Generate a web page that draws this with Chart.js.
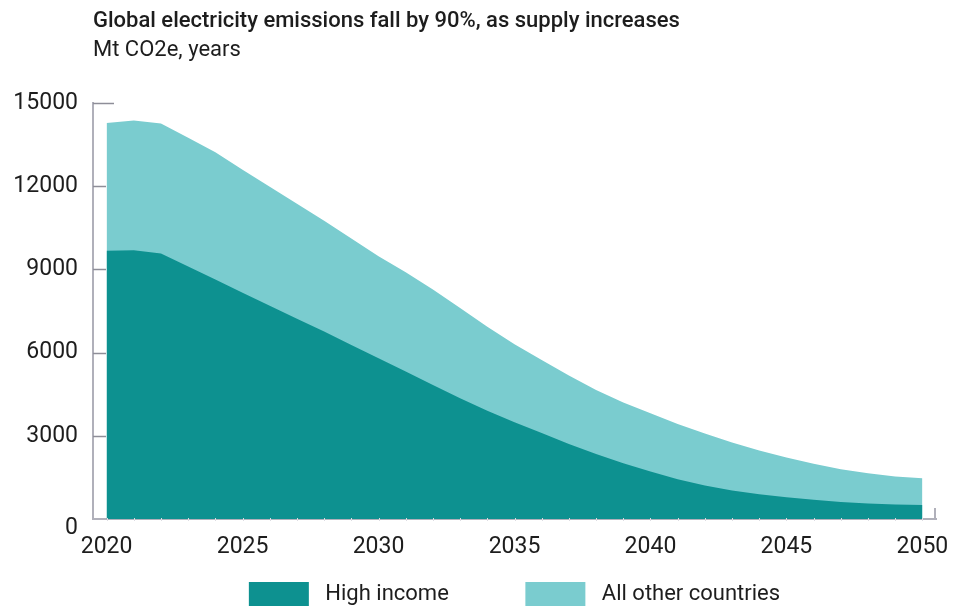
<!DOCTYPE html>
<html>
<head>
<meta charset="utf-8">
<script src="https://cdn.jsdelivr.net/npm/chart.js@4/dist/chart.umd.min.js"></script>
<style>
  html, body { margin: 0; padding: 0; background: #fff; }
  #wrap { width: 953px; height: 606px; }
</style>
</head>
<body>
<div id="wrap"><canvas id="emissions"></canvas></div>
<script>
// Mt CO2e per year
const years = [2020, 2021, 2022, 2023, 2024, 2025, 2026, 2027, 2028, 2029, 2030,
  2031, 2032, 2033, 2034, 2035, 2036, 2037, 2038, 2039, 2040,
  2041, 2042, 2043, 2044, 2045, 2046, 2047, 2048, 2049, 2050];
const highIncome = [9665, 9690, 9570, 9100, 8635, 8150, 7685, 7220, 6755, 6270, 5790,
  5315, 4830, 4355, 3905, 3485, 3095, 2700, 2340, 2010, 1710,
  1430, 1210, 1030, 890, 780, 690, 610, 560, 525, 505];
const otherCountries = [4605, 4670, 4680, 4640, 4585, 4435, 4285, 4140, 3990, 3835, 3680,
  3575, 3440, 3250, 3025, 2815, 2635, 2470, 2310, 2190, 2105,
  1995, 1875, 1730, 1580, 1435, 1300, 1185, 1090, 1005, 965];
const seriesNames = ["High income", "All other countries"];
const xTicks = [2020, 2025, 2030, 2035, 2040, 2045, 2050];
const yTicks = [0, 3000, 6000, 9000, 12000, 15000];

const darkTeal = "#0d9190";
const lightTeal = "#7acccf";
const axisGrey = "#b0b0ba";
const tickGrey = "#8e8e98";
const textColor = "#1d1d1d";
const fontFamily = "Roboto, 'Open Sans', sans-serif";

const toPoints = (vals) => years.map((yr, i) => ({ x: yr, y: vals[i] }));

// inner tick marks on the y axis, end cap on the x axis, faint yearly marks,
// and the zero label sitting a little below the baseline
const axisMarks = {
  id: "axisMarks",
  afterDraw(chart) {
    const { ctx, chartArea, scales } = chart;
    const xs = scales.x, ys = scales.y;
    ctx.save();
    ctx.strokeStyle = tickGrey;
    ctx.lineWidth = 1.5;
    ys.ticks.forEach((t, i) => {
      if (t.value === 0) return;
      const py = Math.round(ys.getPixelForValue(t.value)) + 0.5;
      const len = i === ys.ticks.length - 1 ? 21 : 13;
      ctx.beginPath();
      ctx.moveTo(chartArea.left, py);
      ctx.lineTo(chartArea.left + len, py);
      ctx.stroke();
    });
    ctx.strokeStyle = axisGrey;
    ctx.lineWidth = 2;
    ctx.beginPath();
    ctx.moveTo(chartArea.right - 1, chartArea.bottom);
    ctx.lineTo(chartArea.right - 1, chartArea.bottom - 11);
    ctx.stroke();
    ctx.strokeStyle = "#dcdce2";
    ctx.lineWidth = 1;
    years.forEach((yr) => {
      const px = Math.round(xs.getPixelForValue(yr)) + 0.5;
      ctx.beginPath();
      ctx.moveTo(px, chartArea.bottom - 1);
      ctx.lineTo(px, chartArea.bottom + 2);
      ctx.stroke();
    });
    ctx.fillStyle = textColor;
    ctx.font = "23px " + fontFamily;
    ctx.textAlign = "right";
    ctx.textBaseline = "middle";
    ctx.fillText(String(yTicks[0]), ys.right - 15, ys.getPixelForValue(yTicks[0]) + 9);
    ctx.restore();
  },
};

const chart = new Chart(document.getElementById("emissions"), {
  type: "line",
  data: {
    datasets: [
      {
        label: seriesNames[0],
        data: toPoints(highIncome),
        backgroundColor: darkTeal,
        borderWidth: 0,
        fill: "origin",
      },
      {
        label: seriesNames[1],
        data: toPoints(otherCountries),
        backgroundColor: lightTeal,
        borderWidth: 0,
        fill: "origin",
      },
    ],
  },
  options: {
    responsive: true,
    maintainAspectRatio: false,
    animation: false,
    layout: { padding: { left: 0, right: 17, top: 0, bottom: -10 } },
    elements: {
      point: { radius: 0 },
      line: { tension: 0 },
    },
    plugins: {
      title: {
        display: true,
        text: "Global electricity emissions fall by 90%, as supply increases",
        align: "start",
        fullSize: false,
        color: textColor,
        font: { family: fontFamily, size: 22, weight: 500 },
        padding: { top: 8, bottom: 0 },
      },
      subtitle: {
        display: true,
        text: "Mt CO2e, years",
        align: "start",
        fullSize: false,
        color: textColor,
        font: { family: fontFamily, size: 22, weight: "normal" },
        padding: { top: 3, bottom: 39 },
      },
      legend: {
        position: "bottom",
        fullSize: false,
        labels: {
          color: textColor,
          font: { family: fontFamily, size: 22 },
          boxWidth: 60,
          boxHeight: 24,
          padding: 22,
          generateLabels(c) {
            const items = Chart.defaults.plugins.legend.labels.generateLabels(c);
            items.forEach((it) => {
              it.text = " " + it.text;
              it.lineWidth = 0;
            });
            // wider gap after the first entry
            items[0].text += "          ";
            return items;
          },
        },
      },
      tooltip: { enabled: false },
    },
    scales: {
      x: {
        type: "linear",
        min: 2019.5,
        max: 2050.5,
        afterBuildTicks(scale) {
          scale.ticks = xTicks.map((v) => ({ value: v }));
        },
        afterFit(scale) {
          scale.height = 41;
          scale.paddingLeft = 0;
          scale.paddingRight = 0;
        },
        grid: { display: false, drawTicks: false },
        border: { display: true, color: axisGrey, width: 2 },
        ticks: {
          color: textColor,
          font: { family: fontFamily, size: 23 },
          padding: 14,
          maxRotation: 0,
          autoSkip: false,
          callback: (v) => String(v),
        },
      },
      y: {
        stacked: true,
        min: 0,
        max: 15000,
        afterBuildTicks(scale) {
          scale.ticks = yTicks.map((v) => ({ value: v }));
        },
        afterFit(scale) {
          scale.width = 93;
        },
        grid: { display: false, drawTicks: false },
        border: { display: true, color: axisGrey, width: 2 },
        ticks: {
          color: textColor,
          font: { family: fontFamily, size: 23 },
          padding: 15,
          // zero is drawn by axisMarks, slightly lower
          callback: (v) => (v === 0 ? "" : String(v)),
        },
      },
    },
  },
  plugins: [axisMarks],
});
</script>
</body>
</html>
